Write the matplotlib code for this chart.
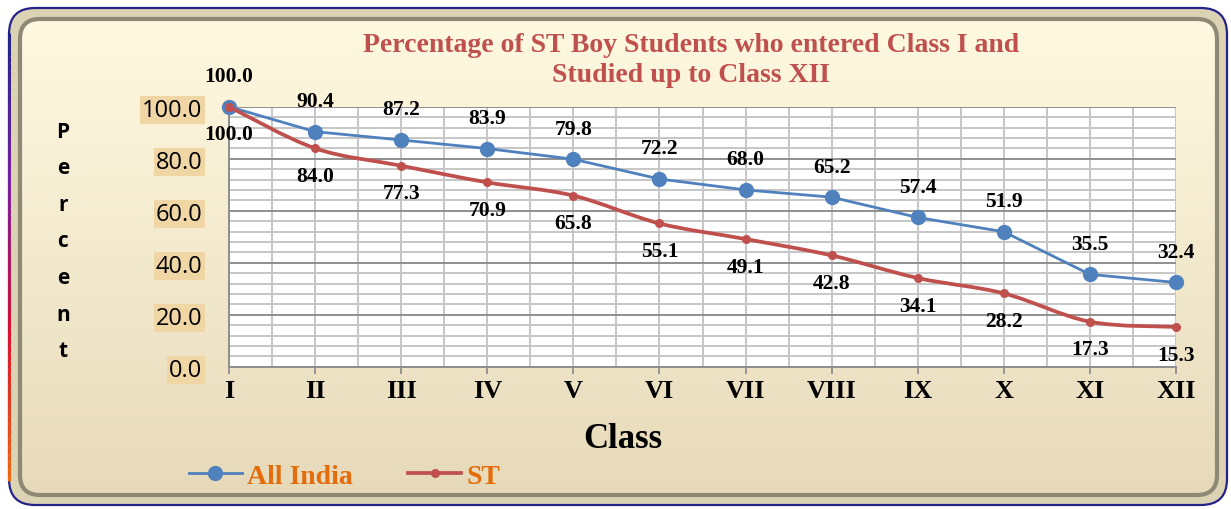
import matplotlib.pyplot as plt
import numpy as np
from matplotlib.patches import FancyBboxPatch, PathPatch
from matplotlib.path import Path
from matplotlib.lines import Line2D
from matplotlib.collections import LineCollection
from matplotlib.colors import LinearSegmentedColormap

classes = ["I", "II", "III", "IV", "V", "VI", "VII", "VIII", "IX", "X", "XI", "XII"]
all_india = [100.0, 90.4, 87.2, 83.9, 79.8, 72.2, 68.0, 65.2, 57.4, 51.9, 35.5, 32.4]
st = [100.0, 84.0, 77.3, 70.9, 65.8, 55.1, 49.1, 42.8, 34.1, 28.2, 17.3, 15.3]
yticks = [0, 20, 40, 60, 80, 100]

blue = "#4F81BD"
red = "#C0504D"
serif = "Liberation Serif"


def smooth_path(xs, ys):
    # excel style smoothed line (catmull-rom -> bezier)
    pts = np.column_stack([xs, ys]).astype(float)
    p = np.vstack([pts[0], pts, pts[-1]])
    verts = [tuple(pts[0])]
    codes = [Path.MOVETO]
    for i in range(1, len(p) - 2):
        c1 = p[i] + (p[i + 1] - p[i - 1]) / 6
        c2 = p[i + 1] - (p[i + 2] - p[i]) / 6
        verts += [tuple(c1), tuple(c2), tuple(p[i + 1])]
        codes += [Path.CURVE4] * 3
    return Path(verts, codes)


fig = plt.figure(figsize=(12.31, 5.10), dpi=100)

# background frame with gradient
bg = fig.add_axes([0, 0, 1, 1], zorder=-10)
bg.set_xlim(0, 1231)
bg.set_ylim(510, 0)
bg.axis("off")
outer = FancyBboxPatch((9, 9), 1218, 497, boxstyle="round,pad=0,rounding_size=26",
                       fc="#DCD3B4", ec="#23238A", lw=1.6, zorder=1)
bg.add_patch(outer)
# coloured left edge
edge_y = np.linspace(34, 482, 60)
edge_pts = np.column_stack([np.full_like(edge_y, 9.0), edge_y])
segs = np.stack([edge_pts[:-1], edge_pts[1:]], axis=1)
edge_cmap = LinearSegmentedColormap.from_list("edge", ["#23238A", "#7A1F9E", "#D8102E", "#F26A10"])
bg.add_collection(LineCollection(segs, colors=edge_cmap(np.linspace(0, 1, len(segs))), lw=2.2, zorder=5))

inner = FancyBboxPatch((20, 20), 1197, 476, boxstyle="round,pad=0,rounding_size=20",
                       fc="none", ec="#8E8874", lw=3, zorder=3)
bg.add_patch(inner)
top_c = np.array([255, 249, 225]) / 255
bot_c = np.array([231, 218, 186]) / 255
g = np.linspace(0, 1, 256)[:, None, None]
img = top_c + (bot_c - top_c) * g
im = bg.imshow(img, extent=(20, 1217, 496, 20), aspect="auto", interpolation="bilinear", zorder=2)
im.set_clip_path(inner)

# main plot
ax = fig.add_axes([229 / 1231, 1 - 367.7 / 510, 947 / 1231, 260 / 510])
ax.set_facecolor("white")
x = np.arange(len(classes))
ax.set_xlim(0, 11)
ax.set_ylim(0, 100)

ax.set_yticks(yticks)
ax.set_yticklabels([f"{v:.1f}" for v in yticks], fontsize=17, family="Open Sans")
ax.set_yticks(np.arange(0, 101, 4), minor=True)
ax.set_xticks(x)
ax.set_xticklabels(classes, fontsize=19, family=serif, fontweight="bold")
ax.set_xticks(np.arange(0.5, 11, 1), minor=True)

ax.grid(which="minor", axis="y", color="#C6C6C6", lw=1.4)
ax.grid(which="major", axis="y", color="#8E8E8E", lw=1.4)
ax.grid(which="both", axis="x", color="#C6C6C6", lw=1.4)
ax.set_axisbelow(True)
ax.tick_params(which="minor", length=0)
ax.tick_params(axis="y", which="major", length=0, pad=19)
ax.tick_params(axis="x", which="major", length=5, width=1.3, color="#8E8E8E", pad=4)
for s in ["top", "right"]:
    ax.spines[s].set_visible(False)
for s in ["left", "bottom"]:
    ax.spines[s].set_color("#8E8E8E")
    ax.spines[s].set_linewidth(1.4)

for lab in ax.get_yticklabels():
    lab.set_bbox(dict(facecolor="#EFD6A4", edgecolor="none", pad=1.5))

ax.plot(x, all_india, color=blue, lw=2.0, marker="o", ms=10, zorder=4, clip_on=False)
ax.add_patch(PathPatch(smooth_path(x, st), fc="none", ec=red, lw=2.7, zorder=5, clip_on=False))
ax.plot(x, st, color=red, lw=0, marker="o", ms=5.5, zorder=6, clip_on=False)

for xi, v in zip(x, all_india):
    ax.annotate(f"{v:.1f}", (xi, v), xytext=(0, 22), textcoords="offset points",
                ha="center", va="center", fontsize=15.5, family=serif, fontweight="bold")
for xi, v in zip(x, st):
    ax.annotate(f"{v:.1f}", (xi, v), xytext=(0, -20), textcoords="offset points",
                ha="center", va="center", fontsize=15.5, family=serif, fontweight="bold")

# titles and labels
fig.text(691 / 1231, 1 - 45 / 510, "Percentage of ST Boy Students who entered Class I and",
         ha="center", va="center", fontsize=20, family=serif, fontweight="bold", color=red)
fig.text(691 / 1231, 1 - 75 / 510, "Studied up to Class XII",
         ha="center", va="center", fontsize=20, family=serif, fontweight="bold", color=red)
fig.text(623 / 1231, 1 - 440 / 510, "Class", ha="center", va="center",
         fontsize=25, family=serif, fontweight="bold")
fig.text(63 / 1231, 1 - 242 / 510, "P\ne\nr\nc\ne\nn\nt", ha="center", va="center",
         fontsize=15, family="Open Sans", fontweight="bold", linespacing=1.97)

handles = [Line2D([], [], color=blue, lw=2.0, marker="o", ms=10),
           Line2D([], [], color=red, lw=2.7, marker="o", ms=5.5)]
leg = fig.legend(handles, ["All India", "ST"], loc="center", bbox_to_anchor=(0.280, 1 - 477 / 510),
                 ncol=2, frameon=False, prop=dict(family=serif, weight="bold", size=20),
                 handlelength=1.9, handletextpad=0.2, columnspacing=2.0)
for t in leg.get_texts():
    t.set_color("#E46C0A")

plt.savefig("out.png", dpi=100)
